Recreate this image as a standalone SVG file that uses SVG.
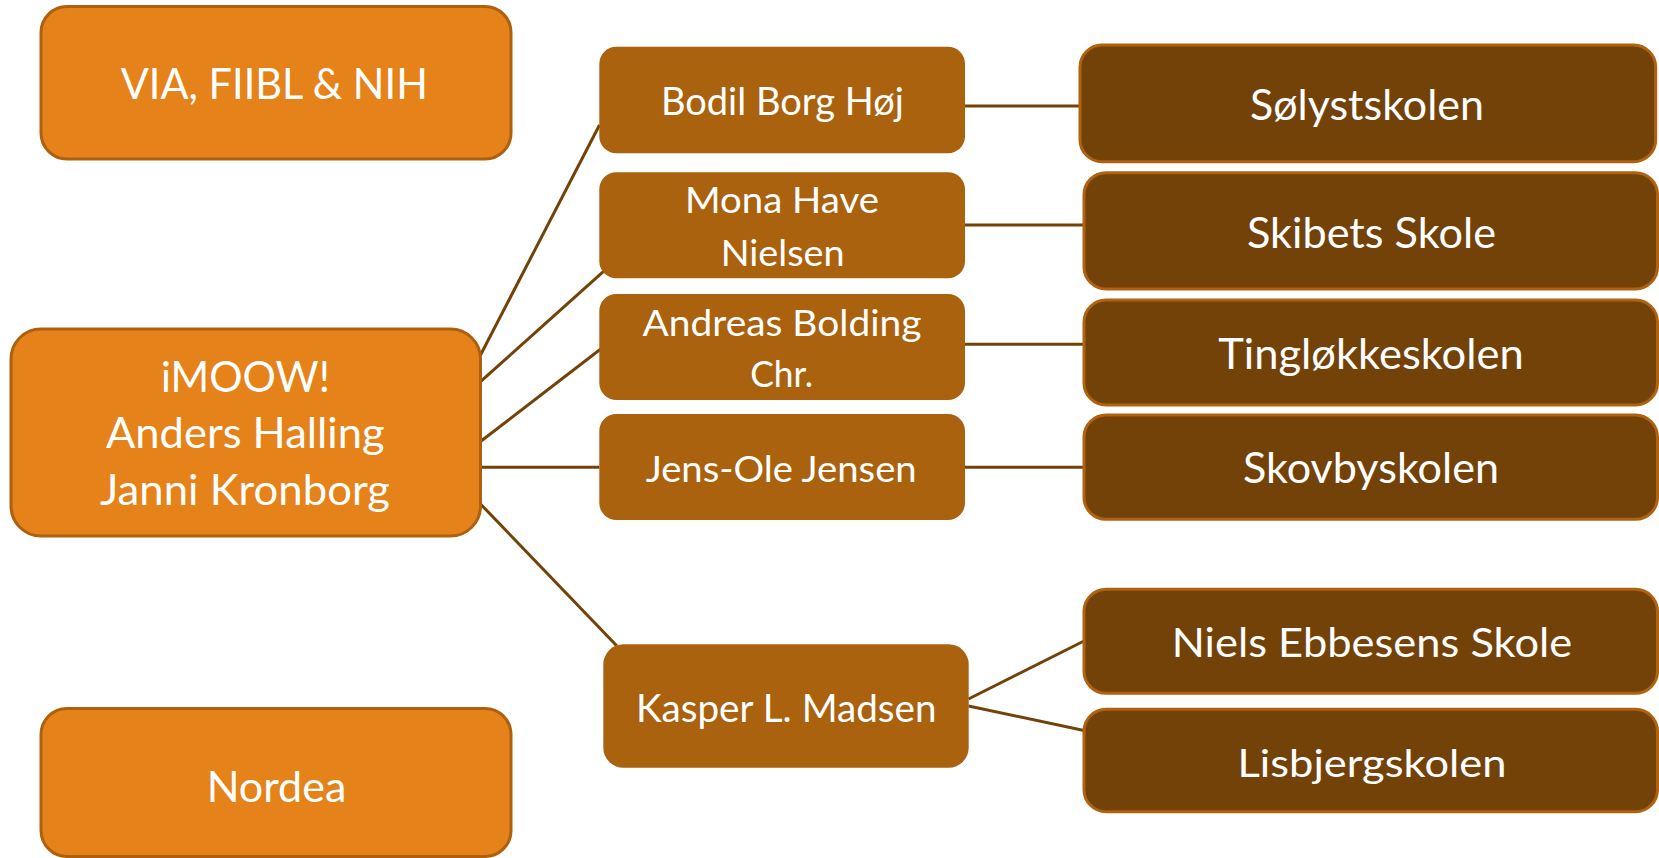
<svg xmlns="http://www.w3.org/2000/svg" width="1659" height="858" viewBox="0 0 1659 858">
<style>
  .light { fill: #E5831A; stroke: #AE600F; stroke-width: 3; }
  .mid { fill: #AA620E; stroke: none; }
  .dark { fill: #734209; stroke: #B0620F; stroke-width: 3; }
  .conn line { stroke: #734209; stroke-width: 3; stroke-linecap: butt; }
  text { font-family: Lato, "Open Sans", "Liberation Sans", sans-serif; fill: #FFFFFF; text-anchor: middle; }
</style>
<rect width="1659" height="858" fill="#FFFFFF"/>
<g id="connectors" class="conn">
  <line x1="480" y1="356" x2="599.5" y2="125"/>
  <line x1="480.5" y1="381.7" x2="603.3" y2="271.7"/>
  <line x1="480.5" y1="441.5" x2="601.7" y2="348.3"/>
  <line x1="480.5" y1="467.3" x2="599.5" y2="467.3"/>
  <line x1="480.5" y1="504" x2="616.7" y2="645.7"/>
  <line x1="965" y1="106" x2="1080" y2="106"/>
  <line x1="965" y1="225" x2="1084" y2="225"/>
  <line x1="965" y1="344.3" x2="1084" y2="344.3"/>
  <line x1="965" y1="467.3" x2="1084" y2="467.3"/>
  <line x1="968.5" y1="699" x2="1084" y2="641"/>
  <line x1="968.5" y1="706" x2="1084" y2="730.5"/>
</g>
<g id="node-via">
  <rect class="light" x="41" y="6.5" width="470" height="152.5" rx="26" ry="26"/>
  <text x="274.3" y="99" font-size="42.8" textLength="307" lengthAdjust="spacingAndGlyphs">VIA, FIIBL &amp; NIH</text>
</g>
<g id="node-imoow">
  <rect class="light" x="11" y="329" width="469.5" height="207" rx="30" ry="30"/>
  <text x="245.4" y="391.7" font-size="41.9" textLength="169" lengthAdjust="spacingAndGlyphs">iMOOW!</text>
  <text x="245.3" y="448.3" font-size="41.9" textLength="278.6" lengthAdjust="spacingAndGlyphs">Anders Halling</text>
  <text x="245" y="505" font-size="41.9" textLength="290" lengthAdjust="spacingAndGlyphs">Janni Kronborg</text>
</g>
<g id="node-nordea">
  <rect class="light" x="41" y="708.5" width="470" height="148" rx="26" ry="26"/>
  <text x="276.5" y="801.7" font-size="41.9" textLength="139.7" lengthAdjust="spacingAndGlyphs">Nordea</text>
</g>
<g id="node-bodil">
  <rect class="mid" x="599.3" y="46.7" width="365.7" height="106.6" rx="17" ry="17"/>
  <text x="782.4" y="115" font-size="38.7" textLength="243" lengthAdjust="spacingAndGlyphs">Bodil Borg Høj</text>
</g>
<g id="node-mona">
  <rect class="mid" x="599.3" y="172.3" width="365.7" height="106" rx="17" ry="17"/>
  <text x="782" y="213.3" font-size="37.3" textLength="194" lengthAdjust="spacingAndGlyphs">Mona Have</text>
  <text x="782.7" y="265.7" font-size="37.3" textLength="124" lengthAdjust="spacingAndGlyphs">Nielsen</text>
</g>
<g id="node-andreas">
  <rect class="mid" x="599.3" y="294" width="365.7" height="106" rx="17" ry="17"/>
  <text x="782" y="336" font-size="37.3" textLength="279" lengthAdjust="spacingAndGlyphs">Andreas Bolding</text>
  <text x="781.7" y="387.3" font-size="37.3" textLength="63" lengthAdjust="spacingAndGlyphs">Chr.</text>
</g>
<g id="node-jens">
  <rect class="mid" x="599.3" y="414" width="365.7" height="106" rx="17" ry="17"/>
  <text x="781.2" y="481.7" font-size="37.3" textLength="271" lengthAdjust="spacingAndGlyphs">Jens-Ole Jensen</text>
</g>
<g id="node-kasper">
  <rect class="mid" x="603.3" y="644.3" width="365.4" height="123.4" rx="20" ry="20"/>
  <text x="786.3" y="721.7" font-size="39.5" textLength="300.7" lengthAdjust="spacingAndGlyphs">Kasper L. Madsen</text>
</g>
<g id="node-solyst">
  <rect class="dark" x="1080" y="45" width="575.7" height="116.7" rx="22" ry="22"/>
  <text x="1367" y="120" font-size="42" textLength="234" lengthAdjust="spacingAndGlyphs">Sølystskolen</text>
</g>
<g id="node-skibets">
  <rect class="dark" x="1084" y="172.7" width="573.5" height="116.3" rx="22" ry="22"/>
  <text x="1371.5" y="248.3" font-size="43" textLength="249" lengthAdjust="spacingAndGlyphs">Skibets Skole</text>
</g>
<g id="node-tinglokke">
  <rect class="dark" x="1084" y="300" width="573.5" height="105" rx="22" ry="22"/>
  <text x="1371" y="369.3" font-size="43" textLength="305.6" lengthAdjust="spacingAndGlyphs">Tingløkkeskolen</text>
</g>
<g id="node-skovby">
  <rect class="dark" x="1084" y="415" width="573.5" height="104.3" rx="22" ry="22"/>
  <text x="1371" y="483.3" font-size="42" textLength="256" lengthAdjust="spacingAndGlyphs">Skovbyskolen</text>
</g>
<g id="node-niels">
  <rect class="dark" x="1084" y="589.3" width="573.5" height="104" rx="22" ry="22"/>
  <text x="1372" y="657.3" font-size="40.5" textLength="400.5" lengthAdjust="spacingAndGlyphs">Niels Ebbesens Skole</text>
</g>
<g id="node-lisbjerg">
  <rect class="dark" x="1084" y="709.3" width="573.5" height="102.4" rx="22" ry="22"/>
  <text x="1372" y="776.7" font-size="39.5" textLength="269" lengthAdjust="spacingAndGlyphs">Lisbjergskolen</text>
</g>
</svg>
